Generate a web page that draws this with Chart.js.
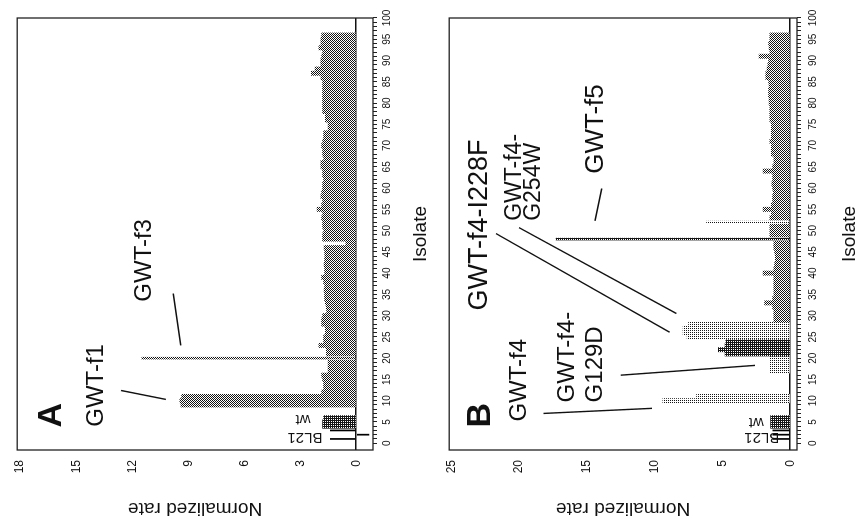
<!DOCTYPE html>
<html>
<head>
<meta charset="utf-8">
<script src="https://cdn.jsdelivr.net/npm/chart.js@4.4.0/dist/chart.umd.min.js"></script>
<style>
  html, body { margin: 0; padding: 0; background: #fff; overflow: hidden; }
  /* the figure is drawn upright, then turned a quarter turn to the left like the scan */
  #page { position: absolute; left: 0; top: 0; width: 519px; height: 859px;
          transform-origin: 0 0; transform: translate(0, 519px) rotate(-90deg); }
  canvas { display: block; }
</style>
</head>
<body>
<div id="page">
  <canvas id="chartA" width="519" height="432"></canvas>
  <canvas id="chartB" width="519" height="427"></canvas>
</div>
<script>
// Isolats (axe horizontal)
const isolates = [
  1, 2, 3, 4, 5, 6, 7, 8, 9, 10, 11, 12, 13, 14, 15, 16, 17, 18, 19, 20,
  21, 22, 23, 24, 25, 26, 27, 28, 29, 30, 31, 32, 33, 34, 35, 36, 37, 38, 39, 40,
  41, 42, 43, 44, 45, 46, 47, 48, 49, 50, 51, 52, 53, 54, 55, 56, 57, 58, 59, 60,
  61, 62, 63, 64, 65, 66, 67, 68, 69, 70, 71, 72, 73, 74, 75, 76, 77, 78, 79, 80,
  81, 82, 83, 84, 85, 86, 87, 88, 89, 90, 91, 92, 93, 94, 95, 96
];

// Panel A : normalized rate par isolat
const rateA = [
  1.4, -0.7, 1.4, 1.8, 1.8, 1.75, null, null, 9.4, 9.45,
  9.35, 1.85, 1.75, 1.75, 1.8, 1.85, 1.5, 1.5, 1.5, 11.5,
  1.6, 1.6, 2.0, 1.75, 1.75, 1.65, 1.65, 1.85, 1.85, 1.8,
  1.58, 1.6, 1.65, 1.7, 1.7, 1.72, 1.7, 1.75, 1.85, 1.7,
  1.7, 1.72, 1.7, 1.68, 1.7, 1.72, 0.55, 1.8, 1.8, 1.75,
  1.8, 1.8, 1.85, 1.8, 2.1, 1.85, 1.8, 1.9, 1.85, 1.8,
  1.8, 1.75, 1.8, 1.8, 1.9, 1.9, 1.75, 1.8, 1.8, 1.85,
  1.8, 1.75, 1.75, 1.5, 1.5, 1.65, 1.65, 1.8, 1.8, 1.8,
  1.8, 1.8, 1.8, 1.8, 1.8, 1.9, 2.4, 2.2, 1.9, 1.9,
  1.85, 1.8, 2.0, 1.9, 1.9, 1.85
];

// Panel B : normalized rate par isolat
const rateB = [
  1.3, 1.3, 1.3, 1.45, 1.45, 1.45, null, null, null, 9.4,
  6.9, null, null, null, null, null, 1.5, 1.5, 1.5, 1.5,
  4.8, 5.3, 4.8, 4.75, 7.6, 7.9, 7.9, 7.5, 1.2, 1.2,
  1.2, 1.3, 1.9, 1.3, 1.2, 1.2, 1.2, 1.2, 1.2, 2.0,
  1.2, 1.15, 1.1, 1.1, 1.15, 1.2, 1.2, 17.3, 1.5, 1.5,
  1.5, 6.2, 1.5, 1.4, 2.0, 1.4, 1.3, 1.3, 1.25, 1.3,
  1.35, 1.3, 1.3, 2.0, 1.3, 1.2, 1.2, 1.4, 1.4, 1.4,
  1.5, 1.4, 1.4, 1.4, 1.4, 1.5, 1.5, 1.5, 1.5, 1.55,
  1.55, 1.6, 1.6, 1.55, 1.6, 1.8, 1.8, 1.7, 1.65, 1.6,
  2.3, 1.5, 1.55, 1.6, 1.5, 1.5
];

// Graduations
const isolateTickLabels = [0, 5, 10, 15, 20, 25, 30, 35, 40, 45, 50, 55, 60, 65, 70, 75, 80, 85, 90, 95, 100];
const rateTicksA = [0, 3, 6, 9, 12, 15, 18];
const rateTicksB = [0, 5, 10, 15, 20, 25];

// Groupes d'isolats (contrôles et variants)
const bl21Isolates = [1, 2, 3];
const wtIsolates = [4, 5, 6];
const thinIsolatesA = [20];
const thinIsolatesB = [48, 52];
const darkIsolatesB = [21, 22, 23, 24, 48];
const sparseIsolatesB = [10, 11, 17, 18, 19, 20, 25, 26, 27, 28, 52];

const FONT = "'Liberation Sans', Arial, Helvetica, sans-serif";
const INK = '#111';

// Trames en points, comme l'impression d'origine
function makePattern(rows) {
  const c = document.createElement('canvas');
  c.width = rows[0].length;
  c.height = rows.length;
  const g = c.getContext('2d');
  g.fillStyle = '#fff';
  g.fillRect(0, 0, c.width, c.height);
  g.fillStyle = '#141414';
  rows.forEach((r, y) => {
    for (let x = 0; x < r.length; x++) if (r[x] === 'x') g.fillRect(x, y, 1, 1);
  });
  return g.createPattern(c, 'repeat');
}
const fills = {
  mid: makePattern(['x.', '.x']),
  dense: makePattern(['xx', 'x.']),
  sparse: makePattern(['x.', '..']),
  solid: '#000'
};

function fillFor(panel, iso) {
  if (bl21Isolates.includes(iso)) return fills.solid;
  if (wtIsolates.includes(iso)) return fills.dense;
  if (panel === 'B' && darkIsolatesB.includes(iso)) return fills.dense;
  if (panel === 'B' && sparseIsolatesB.includes(iso)) return fills.sparse;
  return fills.mid;
}

function points(values, keep) {
  const out = [];
  values.forEach((v, i) => {
    if (v !== null && keep(isolates[i])) out.push({ x: isolates[i], y: v });
  });
  return out;
}

// Cadre, textes et traits de repère
const notesPlugin = {
  id: 'notes',
  afterDraw(chart, args, o) {
    const { ctx, chartArea: a, scales: { x, y } } = chart;
    ctx.save();
    ctx.strokeStyle = '#222';
    ctx.lineWidth = 1.3;
    ctx.strokeRect(a.left, a.top, a.right - a.left, a.bottom - a.top);
    ctx.strokeStyle = INK;
    ctx.lineWidth = 1.4;
    o.leaders.forEach(l => {
      ctx.beginPath();
      ctx.moveTo(x.getPixelForValue(l[0]), y.getPixelForValue(l[1]));
      ctx.lineTo(x.getPixelForValue(l[2]), y.getPixelForValue(l[3]));
      ctx.stroke();
    });
    ctx.fillStyle = INK;
    ctx.textBaseline = 'middle';
    o.labels.forEach(n => {
      ctx.save();
      ctx.translate(x.getPixelForValue(n.iso), y.getPixelForValue(n.rate));
      if (n.vertical) ctx.rotate(-Math.PI / 2);
      ctx.font = (n.bold ? 'bold ' : '') + n.size + 'px ' + FONT;
      ctx.textAlign = n.align || 'center';
      ctx.fillText(n.text, 0, 0);
      ctx.restore();
    });
    ctx.restore();
  }
};

function makeChart(id, panel, values, thinList, rateTicks, rateMin, rateMax, sizes, notes) {
  const notThin = iso => !bl21Isolates.includes(iso) && !thinList.includes(iso);
  const common = { grouped: false, categoryPercentage: 1, borderWidth: 0 };
  return new Chart(document.getElementById(id), {
    type: 'bar',
    data: {
      datasets: [
        Object.assign({ data: points(values, notThin), barPercentage: 1,
          backgroundColor: c => fillFor(panel, c.raw ? c.raw.x : 0) }, common),
        Object.assign({ data: points(values, iso => bl21Isolates.includes(iso)), barPercentage: 0.4,
          backgroundColor: fills.solid }, common),
        Object.assign({ data: points(values, iso => thinList.includes(iso)), barPercentage: 0.6,
          backgroundColor: c => fillFor(panel, c.raw ? c.raw.x : 0) }, common)
      ]
    },
    options: {
      responsive: false,
      animation: false,
      layout: { padding: { top: sizes.top, right: 18, left: 0, bottom: 0 } },
      plugins: {
        legend: { display: false },
        tooltip: { enabled: false },
        notes: notes
      },
      scales: {
        x: {
          type: 'linear',
          min: -1.6,
          max: 100,
          offset: false,
          afterBuildTicks: s => {
            const t = [];
            for (let v = 0; v <= 100; v++) t.push({ value: v });
            s.ticks = t;
          },
          afterFit: s => { s.height = sizes.xHeight; },
          border: { display: false },
          grid: { offset: false, drawOnChartArea: false, drawTicks: true, tickLength: 4, color: '#222', lineWidth: 1 },
          ticks: {
            autoSkip: false, maxRotation: 0, minRotation: 0, padding: sizes.xPad,
            color: INK, font: { family: FONT, size: 10 },
            callback: v => isolateTickLabels.includes(v) ? String(v) : ''
          },
          title: { display: true, text: 'Isolate', color: INK,
            font: { family: FONT, size: 19, lineHeight: 1 }, padding: { top: 0, bottom: sizes.titlePad } }
        },
        y: {
          min: rateMin,
          max: rateMax,
          afterBuildTicks: s => { s.ticks = rateTicks.map(v => ({ value: v })); },
          afterFit: s => { s.width = 69; },
          border: { display: false },
          grid: {
            drawTicks: false,
            lineWidth: 1.5,
            color: c => (c.tick && c.tick.value === 0) ? '#111' : 'rgba(0,0,0,0)'
          },
          ticks: { padding: 10, color: INK, font: { family: FONT, size: 12 } },
          title: { display: true, text: 'Normalized rate', color: INK,
            font: { family: FONT, size: 19, lineHeight: 1 }, padding: { top: 1.5, bottom: 0 } }
        }
      }
    },
    plugins: [notesPlugin]
  });
}

makeChart('chartA', 'A', rateA, thinIsolatesA, rateTicksA, -0.9, 18.16,
  { top: 12, xHeight: 59, xPad: 4, titlePad: 1.5 },
  {
    labels: [
      { text: 'A', iso: 6.6, rate: 16.3, size: 34, bold: true },
      { text: 'GWT-f1', iso: 13.6, rate: 13.9, size: 24 },
      { text: 'GWT-f3', iso: 43, rate: 11.35, size: 24 },
      { text: 'BL21', iso: 1.4, rate: 2.75, size: 15, vertical: true },
      { text: 'wt', iso: 5.6, rate: 2.85, size: 15, vertical: true }
    ],
    leaders: [
      [12.4, 12.6, 10.3, 10.2],
      [35.2, 9.8, 23.0, 9.4]
    ]
  });

makeChart('chartB', 'B', rateB, thinIsolatesB, rateTicksB, -0.5, 25.15,
  { top: 2, xHeight: 62, xPad: 6, titlePad: 0 },
  {
    labels: [
      { text: 'B', iso: 6.6, rate: 22.8, size: 34, bold: true },
      { text: 'GWT-f4', iso: 14.8, rate: 20.0, size: 24 },
      { text: 'GWT-f4-', iso: 9.6, rate: 16.4, size: 24, align: 'left' },
      { text: 'G129D', iso: 9.6, rate: 14.4, size: 24, align: 'left' },
      { text: 'GWT-f4-I228F', iso: 31.2, rate: 22.9, size: 27, align: 'left' },
      { text: 'GWT-f4-', iso: 52.3, rate: 20.3, size: 23, align: 'left' },
      { text: 'G254W', iso: 52.3, rate: 18.9, size: 23, align: 'left' },
      { text: 'GWT-f5', iso: 73.9, rate: 14.3, size: 26 },
      { text: 'BL21', iso: 1.4, rate: 2.1, size: 15, vertical: true },
      { text: 'wt', iso: 4.9, rate: 2.5, size: 15, vertical: true }
    ],
    leaders: [
      [7.0, 18.2, 8.2, 10.2],
      [16.0, 12.5, 18.3, 2.6],
      [49.3, 21.7, 26.1, 8.9],
      [50.7, 20.0, 30.5, 8.4],
      [52.3, 14.4, 59.9, 13.9]
    ]
  });
</script>
</body>
</html>
